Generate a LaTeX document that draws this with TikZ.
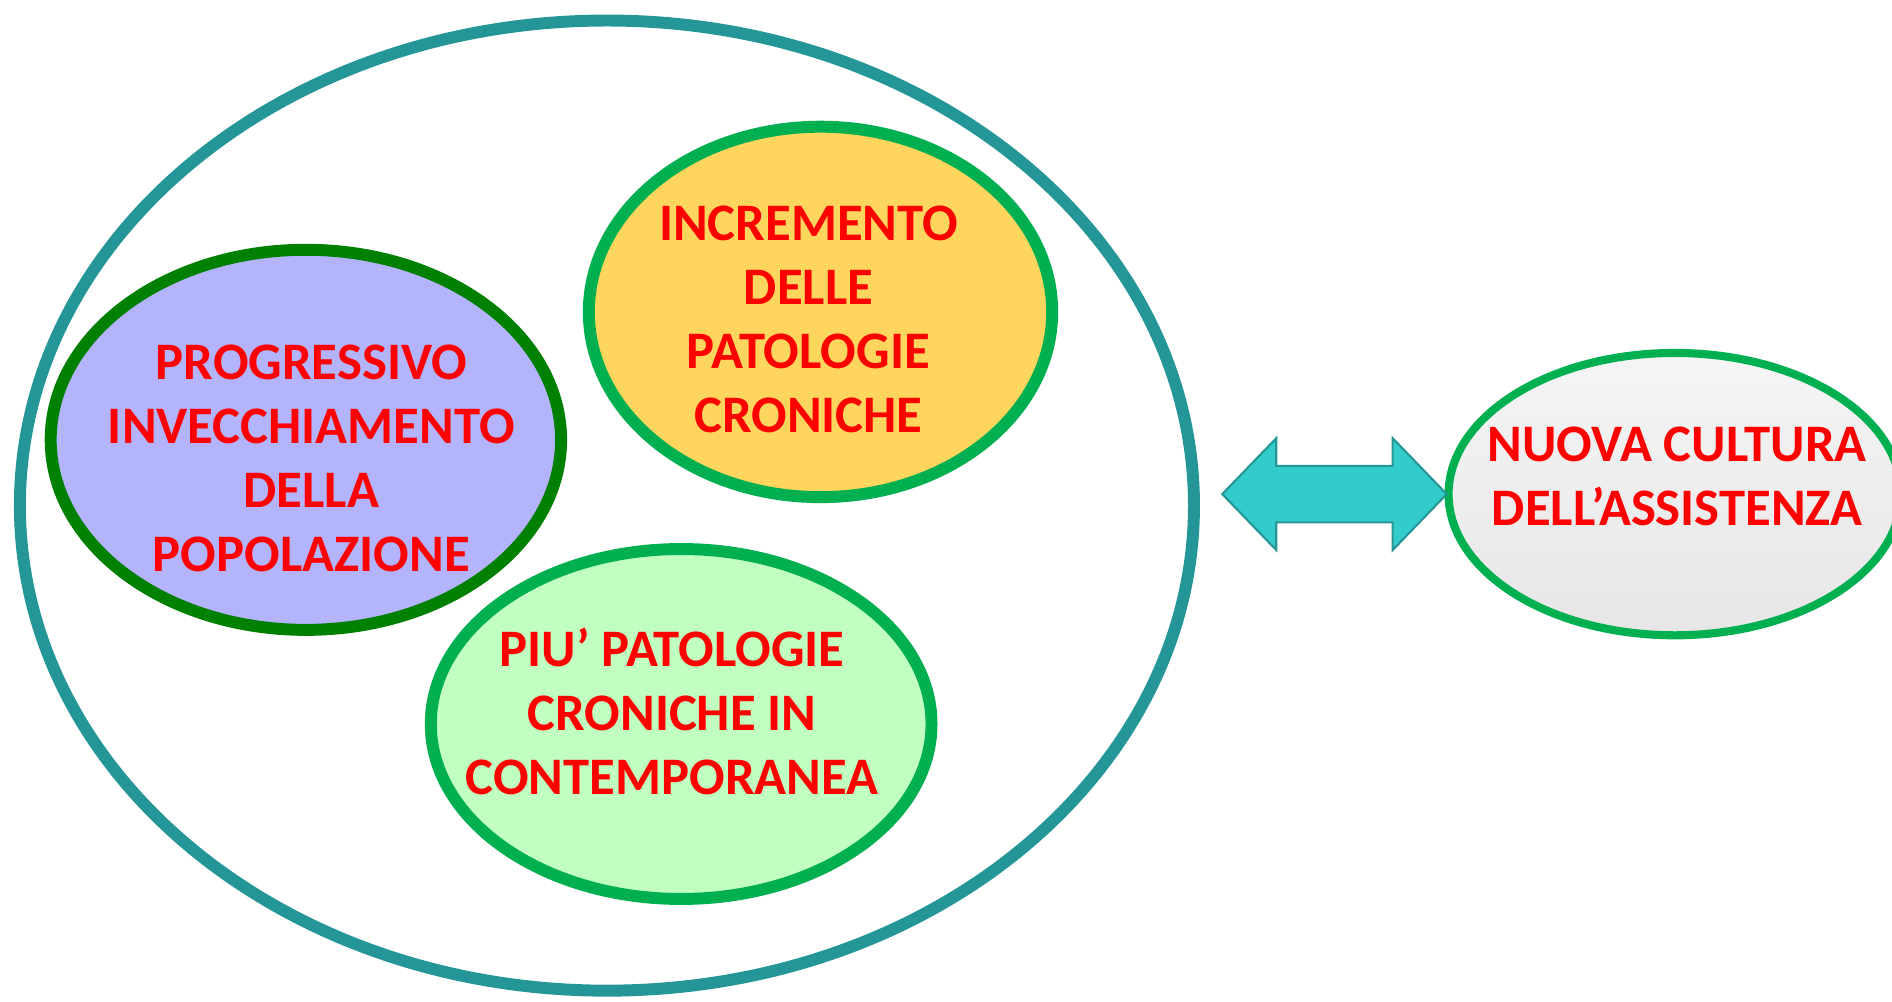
\documentclass[tikz,border=0pt]{standalone}
\usepackage{fontspec}
\setmainfont{Carlito}
\usepackage{xcolor}
\usetikzlibrary{shapes.geometric,shapes.arrows,calc}
\newlength\pxu
\setlength\pxu{0.012066cm}
\definecolor{rimteal}{RGB}{36,150,152}
\definecolor{darkrim}{RGB}{0,128,0}
\definecolor{officegreen}{RGB}{0,176,80}
\definecolor{lilac}{RGB}{180,180,252}
\definecolor{sunny}{RGB}{254,214,94}
\definecolor{mint}{RGB}{192,255,192}
\definecolor{greytop}{RGB}{245,245,245}
\definecolor{greybot}{RGB}{230,230,230}
\definecolor{aqua}{RGB}{51,204,204}
\definecolor{aquarim}{RGB}{38,150,150}
\definecolor{capred}{RGB}{255,0,0}

\begin{document}
\begin{tikzpicture}[x=\pxu,y=-\pxu,
    bubble/.style={ellipse,inner sep=0pt,line width=3.4pt},
    caption/.style={align=center,text=capred,
      font=\fontsize{15}{18.2}\selectfont\bfseries}]
    \useasboundingbox (0,0) rectangle (1568,830);
    \node[bubble,draw=rimteal,minimum width=973\pxu,minimum height=804\pxu] (outer) at (503,419) {};
    \node[bubble,draw=darkrim,fill=lilac,
      minimum width=423\pxu,minimum height=315\pxu] (aging) at (253.5,364.5) {};
    \node[bubble,draw=officegreen,fill=sunny,
      minimum width=384\pxu,minimum height=307\pxu] (growth) at (680,258.5) {};
    \node[bubble,draw=officegreen,fill=mint,
      minimum width=415\pxu,minimum height=290\pxu] (multi) at (564.5,600) {};
    \node[bubble,draw=officegreen,line width=2.3pt,top color=greytop,bottom color=greybot,
      minimum width=375\pxu,minimum height=234\pxu] (culture) at (1388,409.5) {};
    \node[double arrow,draw=aquarim,fill=aqua,line width=0.6pt,inner xsep=0pt,inner ysep=22.5\pxu,
      minimum height=186\pxu,double arrow head extend=23\pxu,double arrow tip angle=92]
      (link) at ($(outer.east|-culture.west)!0.55!(culture.west)$) {};
    \node[caption] (agingtxt) at (258,380) {PROGRESSIVO\\INVECCHIAMENTO\\DELLA\\POPOLAZIONE};
    \node[caption] (growthtxt) at (670,265) {INCREMENTO\\DELLE\\PATOLOGIE\\CRONICHE};
    \node[caption] (multitxt) at (557,590) {PIU’ PATOLOGIE\\CRONICHE IN\\CONTEMPORANEA};
    \node[caption] (culturetxt) at (1390,395) {NUOVA CULTURA\\DELL’ASSISTENZA};
\end{tikzpicture}
\end{document}
